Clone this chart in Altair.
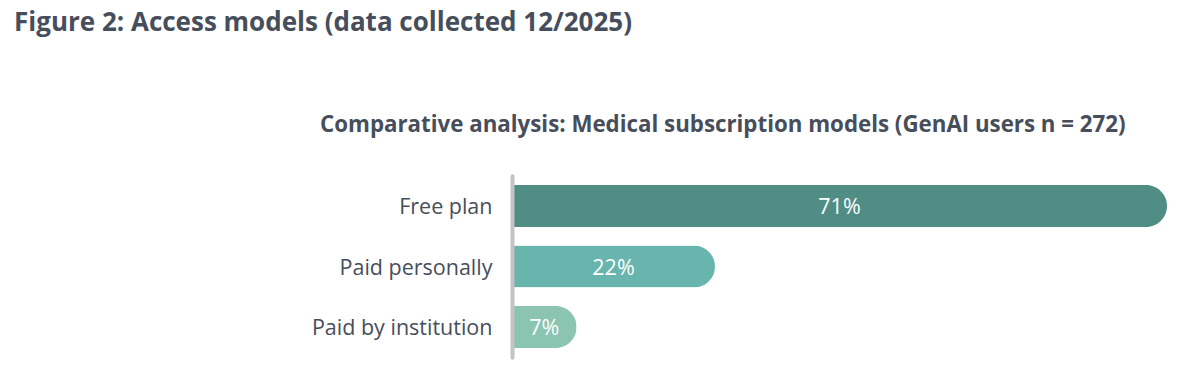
import altair as alt
import pandas as pd

categories = ["Free plan", "Paid personally", "Paid by institution"]
values = [71, 22, 7]
labels = ["71%", "22%", "7%"]
colors = ["#4f8d85", "#68b5ad", "#8bc4b1"]

fig_title = "Figure 2: Access models (data collected 12/2025)"
chart_title = "Comparative analysis: Medical subscription models (GenAI users n = 272)"

FONT = "Open Sans"
TEXT = "#474e5b"

df = pd.DataFrame({"cat": categories, "v": values, "lab": labels})

y = alt.Y("cat:N", sort=categories, title=None,
          scale=alt.Scale(paddingInner=0.306, paddingOuter=0.153),
          axis=alt.Axis(ticks=False, domain=True, domainColor="#c4c4c8",
                        domainWidth=4, domainCap="round", labelPadding=20,
                        labelOffset=2,
                        labelFontSize=21.5, labelColor=TEXT, labelFont=FONT,
                        labelLimit=400, zindex=1))
x_scale = alt.Scale(domain=[0, 71], nice=False, zero=True)

bars = alt.Chart(df).mark_bar(cornerRadiusEnd=21).encode(
    y=y,
    x=alt.X("v:Q", scale=x_scale, axis=None),
    color=alt.Color("cat:N", scale=alt.Scale(domain=categories, range=colors), legend=None),
)

text = alt.Chart(df).transform_calculate(mid="datum.v / 2").mark_text(
    color="white", fontSize=21.5, font=FONT, baseline="middle", align="center", dy=2
).encode(
    y=alt.Y("cat:N", sort=categories),
    x=alt.X("mid:Q", scale=x_scale, axis=None),
    text="lab:N",
)

fig = alt.Chart(pd.DataFrame({"t": [fig_title]})).mark_text(
    align="left", baseline="middle", fontSize=26, fontWeight="bold", font=FONT, color=TEXT
).encode(x=alt.value(-498), y=alt.value(-153), text="t:N")

sub = alt.Chart(pd.DataFrame({"t": [chart_title]})).mark_text(
    align="left", baseline="middle", fontSize=22.3, fontWeight="bold", font=FONT, color=TEXT
).encode(x=alt.value(-192), y=alt.value(-50.5), text="t:N")

chart = alt.layer(bars, text, fig, sub).properties(
    width=655, height=181.5,
    autosize=alt.AutoSizeParams(type="none"),
    padding={"left": 512, "top": 175.75, "right": 27, "bottom": 17.75},
).configure_view(stroke=None)

chart.save("out.html", embed_options={"renderer": "svg", "actions": False})
